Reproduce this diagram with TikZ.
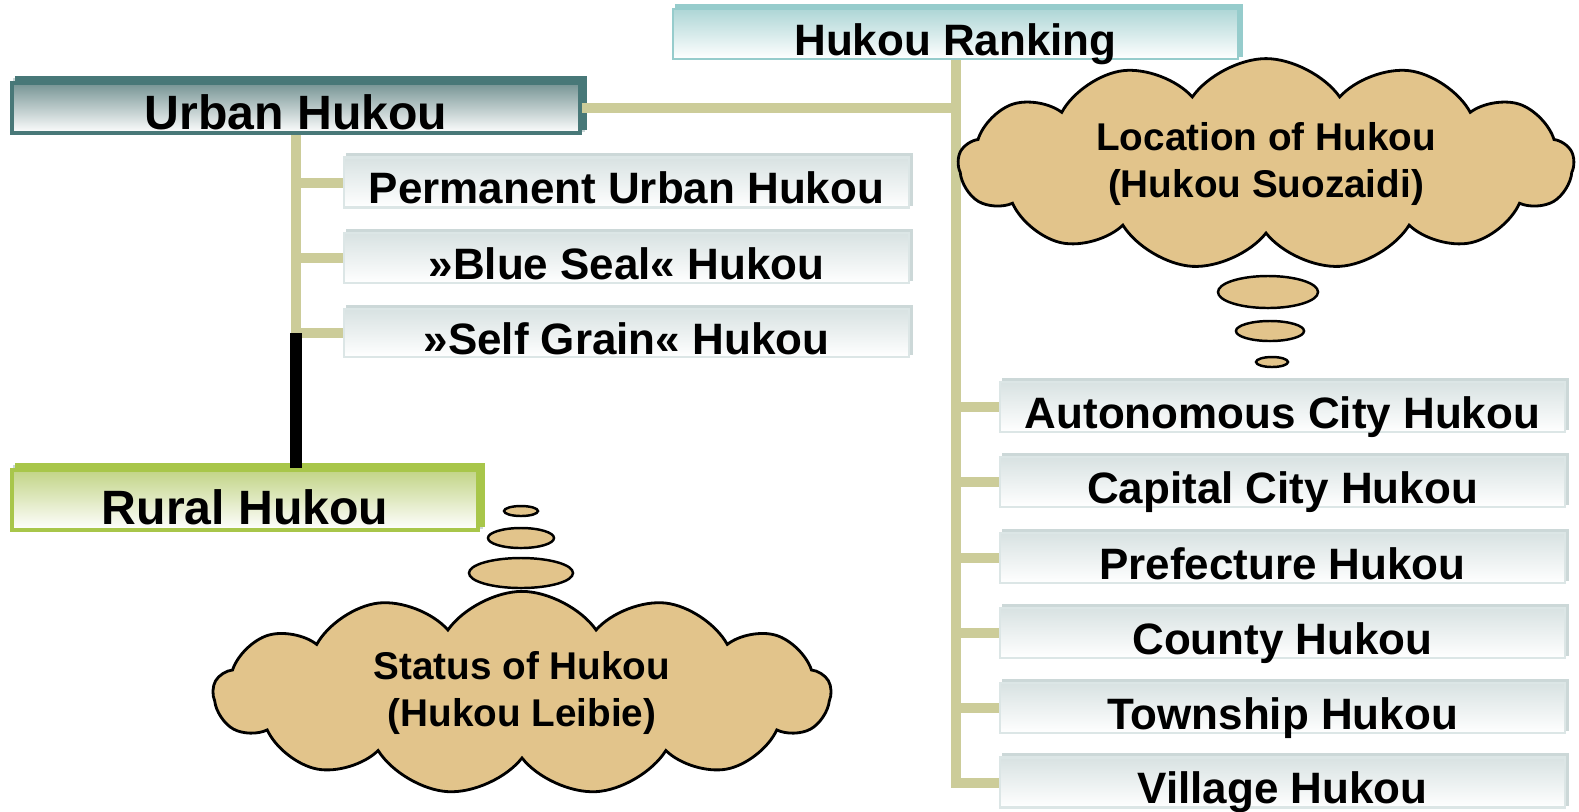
\documentclass[tikz,border=0pt]{standalone}
\usepackage{fontspec}
\setmainfont{Liberation Sans}
\usetikzlibrary{shapes.symbols}
\usetikzlibrary{shapes.geometric}
\usetikzlibrary{shadows}

\definecolor{branchcol}{RGB}{204,204,153}
\definecolor{cloudcol}{RGB}{226,196,139}
\definecolor{itemtop}{RGB}{216,226,226}
\definecolor{itemline}{RGB}{220,230,230}
\definecolor{itemedge}{RGB}{204,216,216}
\definecolor{ranktop}{RGB}{174,214,214}
\definecolor{rankline}{RGB}{150,204,204}
\definecolor{urbantop}{RGB}{118,148,148}
\definecolor{urbanline}{RGB}{72,120,120}
\definecolor{ruraltop}{RGB}{194,212,134}
\definecolor{ruralline}{RGB}{168,198,74}

\tikzset{
  item/.style={rectangle, inner sep=0pt, minimum width=5.65cm, minimum height=0.5cm,
    text height=0.42cm, text depth=0pt, font=\bfseries\fontsize{12.5}{14}\selectfont,
    top color=itemtop, bottom color=white, draw=itemline, line width=0.6pt,
    copy shadow={shadow xshift=0.03cm, shadow yshift=0.03cm, fill=itemedge, draw=itemedge}},
  rankbox/.style={item, top color=ranktop, draw=rankline,
    copy shadow={shadow xshift=0.035cm, shadow yshift=0.035cm, fill=rankline, draw=rankline}},
  urbanbox/.style={item, minimum width=5.68cm, text height=0.43cm,
    font=\bfseries\fontsize{13.7}{15}\selectfont, top color=urbantop, draw=urbanline, line width=1pt,
    copy shadow={shadow xshift=0.05cm, shadow yshift=0.05cm, fill=urbanline, draw=urbanline}},
  ruralbox/.style={item, minimum width=4.66cm, minimum height=0.6cm, text height=0.48cm,
    font=\bfseries\fontsize{13.7}{15}\selectfont, top color=ruraltop, draw=ruralline, line width=1pt,
    copy shadow={shadow xshift=0.05cm, shadow yshift=0.05cm, fill=ruralline, draw=ruralline}},
  thought/.style={cloud, cloud puffs=13, cloud puff arc=110, cloud ignores aspect,
    fill=cloudcol, draw=black, line width=0.8pt, align=center,
    font=\bfseries\fontsize{11}{13.5}\selectfont},
  bubble/.style={ellipse, inner sep=0pt, fill=cloudcol, draw=black, line width=0.7pt},
  branch/.style={branchcol, line width=0.1cm},
  rurallink/.style={black, line width=0.12cm}
}

\begin{document}
\begin{tikzpicture}[x=0.01cm, y=-0.01cm]
	\useasboundingbox (0,0) rectangle (1579,811);
	\node[rankbox] (rank) at (955.5,34) {Hukou Ranking};
	\node[urbanbox] (urban) at (296,108) {Urban Hukou};
	\node[item] (perm) at (626.5,182.5) {Permanent Urban Hukou};
	\node[item] (blue) at (626.5,258) {»Blue Seal« Hukou};
	\node[item, minimum height=0.48cm] (self) at (626.5,333) {»Self Grain« Hukou};
	\node[ruralbox] (rural) at (245,500) {Rural Hukou};
	% location levels, right column
	\foreach \nm/\yy/\txt in {auto/407/Autonomous City Hukou, capital/482/Capital City Hukou,
	    prefecture/558/Prefecture Hukou, county/633/County Hukou,
	    township/708/Township Hukou, village/782.5/Village Hukou}
	  \node[item] (\nm) at (1282.5,\yy) {\txt};
	\draw[branch] (urban.east) -| (rank.south); % status to ranking
	\draw[branch] (rank.south) |- (village.west); % trunk
	\foreach \nm in {auto,capital,prefecture,county,township}
	  \draw[branch] (rank.south |- \nm.west) -- (\nm.west);
	\draw[branch] (urban.south) |- (self.west);
	\draw[branch] (urban.south |- perm.west) -- (perm.west);
	\draw[branch] (urban.south |- blue.west) -- (blue.west);
	\draw[rurallink] (urban.south |- self.west) -- (urban.south |- rural.north);
	% thought clouds
	\node[thought, minimum width=6.15cm, minimum height=1.92cm] (location) at (1266,164)
	  {Location of Hukou\\(Hukou Suozaidi)};
	\node[bubble, minimum width=1.0cm, minimum height=0.32cm] (lbig) at (1268,292) {};
	\node[bubble, minimum width=0.68cm, minimum height=0.2cm] (lmid) at (1270,331) {};
	\node[bubble, minimum width=0.32cm, minimum height=0.1cm] (lsmall) at (1272,362) {};
	\node[thought, minimum width=6.17cm, minimum height=1.65cm] (status) at (522,693)
	  {Status of Hukou\\(Hukou Leibie)};
	\node[bubble, minimum width=1.04cm, minimum height=0.3cm] (sbig) at (521,573) {};
	\node[bubble, minimum width=0.66cm, minimum height=0.2cm] (smid) at (521,538) {};
	\node[bubble, minimum width=0.34cm, minimum height=0.1cm] (ssmall) at (521,511) {};
\end{tikzpicture}
\end{document}
